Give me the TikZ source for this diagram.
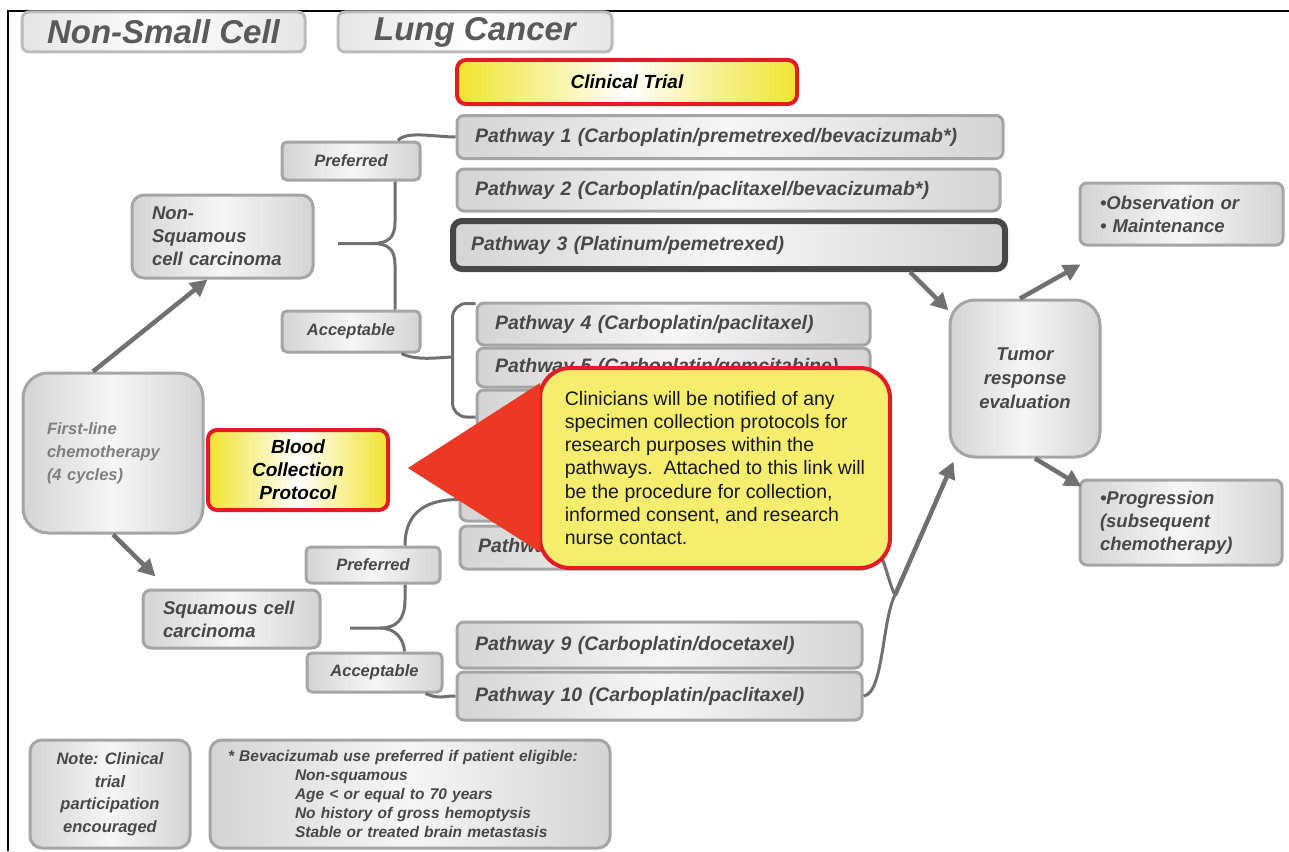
\documentclass[tikz,border=0pt]{standalone}
\usepackage{fontspec}
\setmainfont{Liberation Sans}
\usetikzlibrary{arrows.meta,calc}
\definecolor{BoxEdge}{RGB}{165,165,165}
\definecolor{BoxShade}{RGB}{212,212,212}
\definecolor{BoxLight}{RGB}{246,246,246}
\definecolor{BoxText}{RGB}{72,72,72}
\definecolor{LinkGray}{RGB}{112,112,112}
\definecolor{AlertRed}{RGB}{226,28,38}
\definecolor{PointerRed}{RGB}{236,56,36}
\definecolor{NoteYellow}{RGB}{244,237,110}
\definecolor{HiYellow}{RGB}{240,228,45}
\newcommand{\fsz}[2]{\fontsize{#1}{#2}\selectfont}

\begin{document}
\begin{tikzpicture}[x=1pt,y=-1pt,
  graybox/.style={draw=BoxEdge,line width=3pt,rounded corners=7pt,
    left color=BoxShade,right color=BoxShade,middle color=BoxLight,
    text=BoxText,font=\bfseries\itshape\fsz{18.5}{23}},
  pathbox/.style={graybox,inner xsep=18pt,inner ysep=0pt,align=left,
    font=\bfseries\itshape\fsz{19.5}{22}},
  tagbox/.style={graybox,rounded corners=5pt,inner sep=0pt,
    font=\bfseries\itshape\fsz{16.5}{18}},
  titlebox/.style={graybox,draw=BoxEdge!75,left color=BoxShade!60,right color=BoxShade!60,
    middle color=white,inner sep=0pt,text=BoxText!90,font=\bfseries\itshape\fsz{33}{36}},
  hibox/.style={draw=AlertRed,line width=4pt,rounded corners=9pt,
    left color=HiYellow,right color=HiYellow,middle color=white,
    inner sep=0pt,align=center,font=\bfseries\itshape\fsz{19}{23}},
  link/.style={draw=LinkGray,line width=3pt},
  flow/.style={draw=LinkGray,line width=4.5pt,-{Triangle[length=17pt,width=17pt]}}]
\useasboundingbox (0,0) rectangle (1289,851);
\draw[line width=2pt] (8,851) -- (8,11) -- (1289,11);

\node[titlebox,minimum width=283pt,minimum height=40pt] (t1) at (163.5,32) {Non-Small Cell};
\node[titlebox,minimum width=274pt,minimum height=40pt] (t2) at (475,32) {Lung Cancer};
\node[hibox,minimum width=340pt,minimum height=44pt] (ct) at (627,82) {Clinical Trial};

\node[pathbox,minimum height=43pt,text width=510pt] (p1) at (730,137) {Pathway 1 (Carboplatin/premetrexed/bevacizumab*)};
\node[pathbox,minimum height=42pt,text width=507pt] (p2) at (728.5,190) {Pathway 2 (Carboplatin/paclitaxel/bevacizumab*)};
\node[pathbox,draw=black!72,line width=6pt,rounded corners=9pt,minimum height=48pt,text width=516pt] (p3) at (729,245) {Pathway 3 (Platinum/pemetrexed)};
\node[pathbox,minimum height=42pt,text width=357pt] (p4) at (673.5,324) {Pathway 4 (Carboplatin/paclitaxel)};
\node[pathbox,minimum height=39pt,text width=357pt] (p5) at (673.5,367.5) {Pathway 5 (Carboplatin/gemcitabine)};
\node[pathbox,minimum height=38pt,text width=357pt] (p6) at (673.5,409) {};
\node[pathbox,minimum height=43pt,text width=374pt] (p7) at (665,499.5) {};
\node[pathbox,minimum height=43pt,text width=374pt] (p8) at (665,547.5) {Pathway 8};
\node[pathbox,minimum height=46pt,text width=369pt] (p9) at (659.5,645) {Pathway 9 (Carboplatin/docetaxel)};
\node[pathbox,minimum height=48pt,text width=369pt] (p10) at (659.5,696) {Pathway 10 (Carboplatin/paclitaxel)};

\node[tagbox,minimum width=138pt,minimum height=38pt] (pref1) at (351,161) {Preferred};
\node[tagbox,minimum width=138pt,minimum height=41pt] (acc1) at (351,331.5) {Acceptable};
\node[tagbox,minimum width=134pt,minimum height=36pt] (pref2) at (373,565) {Preferred};
\node[tagbox,minimum width=135pt,minimum height=39pt] (acc2) at (374.5,672.5) {Acceptable};

\node[graybox,rounded corners=12pt,minimum height=83pt,text width=141pt,inner xsep=20pt,align=left] (nsq) at (222.5,236.5) {Non-\\Squamous\\cell carcinoma};
\node[graybox,rounded corners=8pt,minimum height=58pt,text width=137pt,inner xsep=20pt,align=left] (sq) at (231.5,619) {Squamous cell\\carcinoma};
\node[graybox,rounded corners=25pt,minimum height=160pt,text width=132pt,inner xsep=24pt,align=left,
  font=\bfseries\itshape\fsz{16.5}{23},text=BoxText!70] (fl) at (113,453) {First-line\\chemotherapy\\(4 cycles)};
\node[hibox,minimum width=180pt,minimum height=80pt] (bcp) at (298,470) {Blood\\Collection\\Protocol};

\node[graybox,rounded corners=25pt,minimum width=150pt,minimum height=157pt,inner sep=0pt,align=center,
  font=\bfseries\itshape\fsz{18.5}{24}] (tum) at (1025,378.5) {Tumor\\response\\evaluation};
\node[graybox,minimum height=62pt,text width=163pt,inner xsep=20pt,align=left] (obs) at (1181.5,214) {•Observation or\\• Maintenance};
\node[graybox,minimum height=85pt,text width=162pt,inner xsep=20pt,align=left] (prog) at (1181,522.5) {•Progression\\(subsequent\\chemotherapy)};

\node[graybox,rounded corners=12pt,minimum width=160pt,minimum height=108pt,inner sep=0pt,align=center,
  font=\bfseries\itshape\fsz{16.5}{22.5}] (note) at (110,794) {Note: Clinical\\trial\\participation\\encouraged};
\node[graybox,rounded corners=12pt,minimum height=108pt,text width=364pt,inner xsep=18pt,align=left,
  font=\bfseries\itshape\fsz{15.5}{19}] (foot) at (410,794) {* Bevacizumab use preferred if patient eligible:\\
  \hspace*{67pt}Non-squamous\\\hspace*{67pt}Age < or equal to 70 years\\
  \hspace*{67pt}No history of gross hemoptysis\\\hspace*{67pt}Stable or treated brain metastasis};

\coordinate (nsbr) at (338,243.5);
\coordinate (nsjoin) at (454,357);
\coordinate (sqbr) at (350,628);
\coordinate (jn) at (895,595);

\draw[flow] ([xshift=-20]fl.north) -- ([xshift=-15]nsq.south);
\draw[flow] (fl.south) -- ([xshift=14,yshift=12]sq.north west);

\draw[link] ([xshift=44]pref1.south) -- (395,222) .. controls (395,238) and (388,243.5) .. (372,243.5) -- (nsbr);
\draw[link] ([xshift=44]acc1.north) -- (395,265) .. controls (395,249) and (388,243.5) .. (372,243.5);
\draw[link] ([xshift=47]pref1.north) .. controls +(8,-10) and +(-20,0) .. (p1.west);
\draw[link,rounded corners=14pt] ([yshift=-2]p4.north west) -| ([xshift=-23,yshift=-8]p6.west) -- ([yshift=-8]p6.west);
\draw[link] ([xshift=-20]acc1.south east) .. controls +(15,8) and +(-12,0) .. (nsjoin);

\draw[link] ([xshift=32]pref2.south) -- (405,600) .. controls (405,620) and (396,628) .. (380,628) -- (sqbr);
\draw[link] ([xshift=30]acc2.north) .. controls (404,640) and (396,628) .. (380,628);
\draw[link] ([xshift=32]pref2.north) .. controls +(0,-35) and +(-30,0) .. (p7.west);
\draw[link] ([xshift=-18]acc2.south east) .. controls +(14,6) and +(-14,0) .. (p10.west);

\draw[link] (p10.east) .. controls +(20,-2) and +(-13,25) .. (jn);
\draw[link] (p8.east) .. controls +(12,0) and +(-8,-15) .. (jn);
\draw[flow] (jn) -- ([xshift=5,yshift=-3]tum.south west);
\draw[flow] ([xshift=-98]p3.south east) -- ([yshift=-12]tum.north west);
\draw[flow] ([xshift=-5]tum.north) -- ([xshift=2,yshift=-18]obs.south west);
\draw[flow] ([xshift=10]tum.south) -- ([xshift=3,yshift=-8]prog.north west);

\node[draw=AlertRed,line width=4pt,fill=NoteYellow,rounded corners=30pt,minimum width=350pt,minimum height=200pt,
  align=left,text=black!90,font=\fsz{19.5}{23.3}] (co) at (715,468)
  {Clinicians will be notified of any\\specimen collection protocols for\\research purposes within the\\
   pathways.\ \ Attached to this link will\\be the procedure for collection,\\informed consent, and research\\nurse contact.};
\fill[PointerRed] ([xshift=-130]co.west) -- ([xshift=2,yshift=85]co.west) -- ([xshift=2,yshift=-84]co.west) -- cycle;
\end{tikzpicture}
\end{document}
